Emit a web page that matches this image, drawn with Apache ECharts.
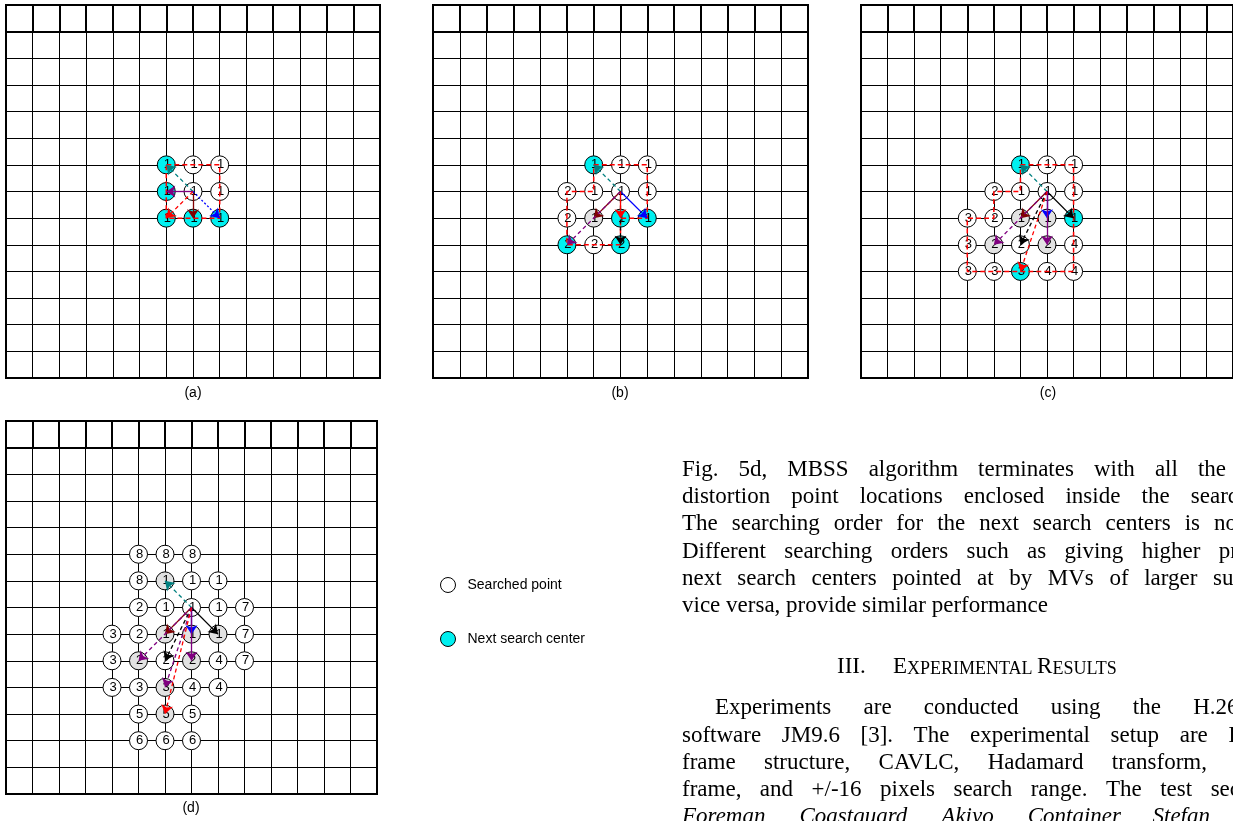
<!DOCTYPE html>
<html><head><meta charset="utf-8">
<script src="https://cdn.jsdelivr.net/npm/echarts@6/dist/echarts.min.js"></script>
<style>html,body{margin:0;padding:0;background:#fff;overflow:hidden}#c{width:1233px;height:821px;}</style>
</head><body><div id="c"></div>
<script>
// ---------------- DATA ----------------
const cells = 14;
const captions = ['(a)', '(b)', '(c)', '(d)'];
const legendNames = ['Searched point', 'Next search center'];

// points: [column, row, order label]
const searchedA = [[7,6,1],[8,6,1],[7,7,1],[8,7,1]];
const centerA   = [[6,6,1],[6,7,1],[6,8,1],[7,8,1],[8,8,1]];
const visitedA  = [];

const searchedB = [[7,6,1],[8,6,1],[5,7,2],[6,7,1],[7,7,1],[8,7,1],[5,8,2],[6,9,2]];
const centerB   = [[6,6,1],[7,8,1],[8,8,1],[5,9,2],[7,9,2]];
const visitedB  = [[6,8,1]];

const searchedC = [[7,6,1],[8,6,1],[5,7,2],[6,7,1],[7,7,1],[8,7,1],[4,8,3],[5,8,2],[4,9,3],[6,9,2],[8,9,4],[4,10,3],[5,10,3],[7,10,4],[8,10,4]];
const centerC   = [[6,6,1],[8,8,1],[6,10,3]];
const visitedC  = [[6,8,1],[7,8,1],[5,9,2],[7,9,2]];

const searchedD = [[5,5,8],[6,5,8],[7,5,8],[5,6,8],[7,6,1],[8,6,1],[5,7,2],[6,7,1],[7,7,1],[8,7,1],[9,7,7],[4,8,3],[5,8,2],[9,8,7],[4,9,3],[6,9,2],[8,9,4],[9,9,7],[4,10,3],[5,10,3],[7,10,4],[8,10,4],[5,11,5],[7,11,5],[5,12,6],[6,12,6],[7,12,6]];
const centerD   = [];
const visitedD  = [[6,6,1],[6,8,1],[7,8,1],[8,8,1],[5,9,2],[7,9,2],[6,10,3],[6,11,5]];

// arrows: [fromCol, fromRow, toCol, toRow, colour, style]
const arrowsA = [[7,7,6,6,'teal','dash'],[7,7,6,7,'purple','solid'],[7,7,6,8,'red','dash'],[7,7,7,8,'darkred','solid'],[7,7,8,8,'blue','dot']];
const arrowsB = [[7,7,6,6,'teal','dash'],[7,7,8,8,'blue','solid'],[7,7,6,8,'darkred','solid'],[7,7,5,9,'purple','dash'],[7,7,7,9,'black','dash'],[7,7,7,8,'red','solid']];
const arrowsC = [[7,7,6,6,'teal','dash'],[7,7,8,8,'black','solid'],[7,7,6,8,'darkred','solid'],[7,7,5,9,'purple','dash'],[7,7,6,9,'black','dash'],[7,7,7,8,'blue','solid'],[7,7,7,9,'purple','solid'],[7,7,6,10,'red','dash']];
const arrowsD = [[7,7,6,6,'teal','dash'],[7,7,8,8,'black','solid'],[7,7,6,8,'darkred','solid'],[7,7,5,9,'purple','dash'],[7,7,6,9,'black','dash'],[7,7,7,8,'blue','solid'],[7,7,7,9,'purple','solid'],[7,7,6,10,'purple','dash'],[7,7,6,11,'red','dash']];

// search window outlines
const windowA = [[6,6],[8,6],[8,8],[6,8],[6,6]];
const windowB = [[6,6],[8,6],[8,8],[7,8],[7,9],[5,9],[5,7],[6,7],[6,6]];
const windowC = [[6,6],[8,6],[8,10],[4,10],[4,8],[5,8],[5,7],[6,7],[6,6]];
const windowD = [];

// body text
const para1 = [
  'Fig. 5d, MBSS algorithm terminates with all the',
  'distortion point locations enclosed inside the searc',
  'The searching order for the next search centers is no',
  'Different searching orders such as giving higher pr',
  'next search centers pointed at by MVs of larger sub',
  'vice versa, provide similar performance'
];
const headingNum = 'III.';
const headingWords = ['EXPERIMENTAL', 'RESULTS'];
const para2 = [
  'Experiments are conducted using the H.264',
  'software JM9.6 [3]. The experimental setup are I',
  'frame structure, CAVLC, Hadamard transform,',
  'frame, and +/-16 pixels search range. The test sec',
  'Foreman, Coastguard, Akiyo, Container, Stefan'
];

// ---------------- LAYOUT / STYLE ----------------
const panels = [
  {left: 6,   top: 5,   width: 374, height: 373, cap: [193, 393], s: searchedA, c: centerA, v: visitedA, a: arrowsA, w: windowA},
  {left: 433, top: 5,   width: 375, height: 373, cap: [620, 393], s: searchedB, c: centerB, v: visitedB, a: arrowsB, w: windowB},
  {left: 861, top: 5,   width: 375, height: 373, cap: [1048, 393], s: searchedC, c: centerC, v: visitedC, a: arrowsC, w: windowC},
  {left: 6,   top: 421, width: 371, height: 373, cap: [191, 808], s: searchedD, c: centerD, v: visitedD, a: arrowsD, w: windowD}
];
const colours = {teal: '#008080', purple: '#800080', red: '#ff0000', darkred: '#800000', blue: '#0000ff', black: '#000000'};
const dashes = {solid: 'solid', dash: [4, 3], dot: [2, 2]};
const CYAN = '#00f0f0', GREY = '#e2e2e2';
const SANS = '"Liberation Sans", Arial, sans-serif';
const SERIF = '"Liberation Serif", "Times New Roman", serif';

const grid = [], xAxis = [], yAxis = [], series = [], graphic = [];

const headerSegs = [{coords: [[0, 1], [cells, 1]]}];
for (let k = 1; k < cells; k++) headerSegs.push({coords: [[k, 0], [k, 1]]});

function pointLabel() {
  return {show: true, position: 'inside', formatter: p => String(p.value[2]), fontSize: 13, fontFamily: SANS, color: '#000', offset: [1, 0]};
}

panels.forEach((p, i) => {
  grid.push({left: p.left, top: p.top, width: p.width, height: p.height, show: true, borderColor: '#000', borderWidth: 2, backgroundColor: '#fff'});
  const ax = {gridIndex: i, type: 'value', min: 0, max: cells, interval: 1,
    axisLabel: {show: false}, axisTick: {show: false}, axisLine: {show: false},
    splitLine: {show: true, lineStyle: {color: '#000', width: 1}}};
  xAxis.push(Object.assign({}, ax));
  yAxis.push(Object.assign({inverse: true}, ax));

  series.push({type: 'lines', coordinateSystem: 'cartesian2d', xAxisIndex: i, yAxisIndex: i, z: 1,
    symbol: 'none', lineStyle: {color: '#000', width: 2, opacity: 1}, data: headerSegs, silent: true});

  const sc = (name, data, fill) => ({type: 'scatter', name, xAxisIndex: i, yAxisIndex: i, z: 3,
    symbol: 'circle', symbolSize: 18, data,
    itemStyle: {color: fill, borderColor: '#000', borderWidth: 1, opacity: 1},
    label: pointLabel(), emphasis: {disabled: true}});
  series.push(sc(legendNames[0], p.s, '#ffffff'));
  series.push(sc(legendNames[1], p.c, CYAN));
  series.push(sc('Visited', p.v, GREY));

  if (p.w.length) {
    series.push({type: 'line', xAxisIndex: i, yAxisIndex: i, z: 4, data: p.w, symbol: 'none',
      lineStyle: {color: '#ff0000', width: 1.5, type: [5, 3]}, silent: true});
  }
  series.push({type: 'lines', coordinateSystem: 'cartesian2d', xAxisIndex: i, yAxisIndex: i, z: 5,
    symbol: ['none', 'arrow'], symbolSize: [0, 9], silent: true,
    data: p.a.map(a => ({coords: [[a[0], a[1]], [a[2], a[3]]],
      lineStyle: {color: colours[a[4]], type: dashes[a[5]], width: 1.3, opacity: 1}}))});

  graphic.push({type: 'text', x: p.cap[0], y: p.cap[1],
    style: {text: captions[i], font: '14px ' + SANS, fill: '#000', align: 'center', verticalAlign: 'middle', textAlign: 'center', textVerticalAlign: 'middle'}});
});

// justified text lines
const mctx = document.createElement('canvas').getContext('2d');
function addLine(text, x0, x1, y, font) {
  const words = text.split(' ');
  mctx.font = font;
  const widths = words.map(w => mctx.measureText(w).width);
  const total = widths.reduce((s, w) => s + w, 0);
  const gap = (x1 == null || words.length < 2) ? mctx.measureText(' ').width : (x1 - x0 - total) / (words.length - 1);
  let x = x0;
  words.forEach((w, k) => {
    graphic.push({type: 'text', x: x, y: y, style: {text: w, font: font, fill: '#000', verticalAlign: 'middle', textVerticalAlign: 'middle'}});
    x += widths[k] + gap;
  });
}
const F = '23px ' + SERIF;
const FI = 'italic 23px ' + SERIF;
const p1Y = [470, 497, 524, 552, 579, 606];
const p1R = [1226, 1238, 1237, 1238, 1245, null];
para1.forEach((t, k) => addLine(t, 682, p1R[k], p1Y[k], F));

graphic.push({type: 'text', x: 837, y: 667, style: {text: headingNum, font: F, fill: '#000', verticalAlign: 'middle', textVerticalAlign: 'middle'}});
graphic.push({type: 'text', x: 893, y: 667, style: {
  text: headingWords.map(w => '{b|' + w[0] + '}{s|' + w.slice(1) + '}').join('{s| }'),
  verticalAlign: 'middle', textVerticalAlign: 'middle',
  rich: {b: {fontSize: 23, fontFamily: SERIF, fill: '#000', color: '#000', lineHeight: 23, verticalAlign: 'bottom'},
         s: {fontSize: 18, fontFamily: SERIF, fill: '#000', color: '#000', lineHeight: 19, verticalAlign: 'bottom'}}}});

const p2X = [715, 682, 682, 682, 682];
const p2Y = [708, 736, 763, 790, 817];
const p2R = [1250, 1236, 1207, 1240, 1210];
para2.forEach((t, k) => addLine(t, p2X[k], p2R[k], p2Y[k], k === 4 ? FI : F));

const chart = echarts.init(document.getElementById('c'), null, {renderer: 'canvas'});
chart.setOption({
  animation: false,
  backgroundColor: '#fff',
  grid, xAxis, yAxis, series, graphic,
  legend: {data: legendNames, orient: 'vertical', left: 435, top: 572, itemWidth: 15, itemHeight: 15, itemGap: 38,
    icon: 'circle', selectedMode: false,
    itemStyle: {borderColor: '#000', borderWidth: 1},
    textStyle: {fontSize: 14, fontFamily: SANS, color: '#000', padding: [0, 0, 0, 7]}}
});
</script></body></html>
